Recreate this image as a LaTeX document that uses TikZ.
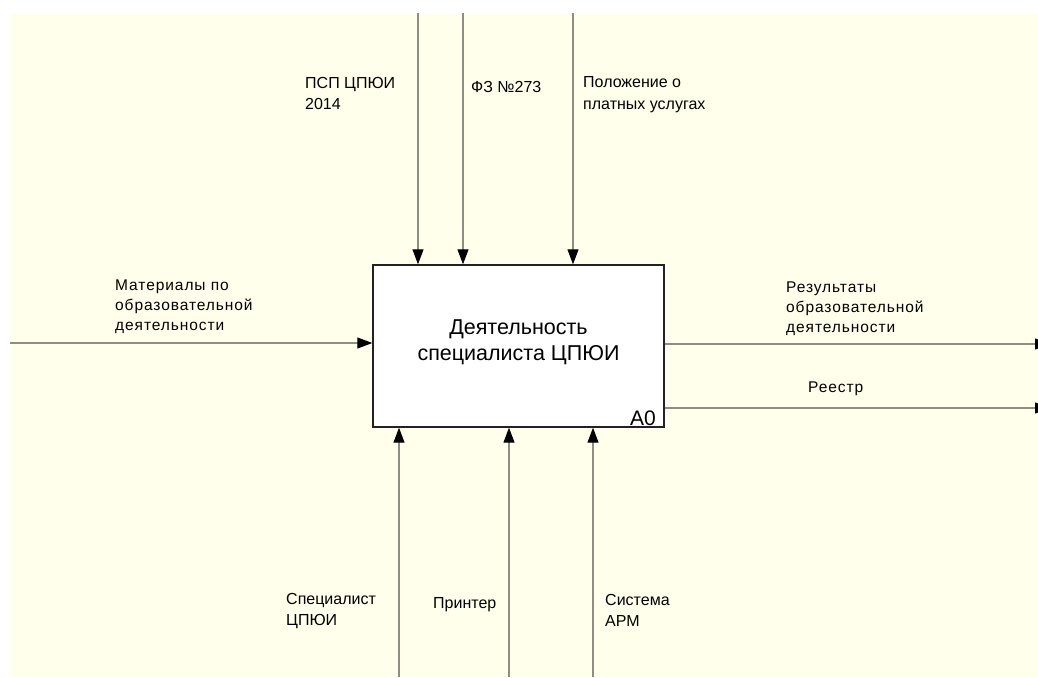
\documentclass[tikz,border=0pt]{standalone}
\usepackage{fontspec}
\setmainfont{Liberation Sans}
\usetikzlibrary{arrows.meta}
\definecolor{paper}{HTML}{FFFFEB}
\definecolor{wirecol}{HTML}{8E8E84}
\definecolor{framecol}{HTML}{222222}
\begin{document}
\begin{tikzpicture}[x=1pt,y=-1pt,
  wire/.style={draw=wirecol, line width=1.1pt,
    -{Triangle[length=15pt,width=11pt,fill=black,color=black]}},
  activity/.style={draw=framecol, fill=white, line width=1.4pt,
    minimum width=291pt, minimum height=162pt, inner sep=0pt},
  lbl/.style={anchor=north west, inner sep=0pt, align=left,
    font=\fontsize{16}{21.5}\selectfont},
  slbl/.style={anchor=north west, inner sep=0pt, align=left,
    font=\fontsize{15.5}{20}\selectfont\addfontfeatures{LetterSpace=6}},
]
% page and sheet
\fill[white] (0,0) rectangle (1038,677);
\fill[paper] (10,13) rectangle (1038,677);
\useasboundingbox (0,0) rectangle (1038,677);

% the activity box
\node[activity] (act) at (518.5,346) {};
\node[align=center, inner sep=0pt, font=\fontsize{21.5}{25.7}\selectfont]
  (title) at (518.5,342) {Деятельность\\специалиста ЦПЮИ};
\node[anchor=base east, inner sep=0pt, font=\fontsize{21}{24}\selectfont]
  (num) at (656,425.5) {A0};

% control arrows (top)
\coordinate (c1) at (418,13);
\coordinate (c2) at (463,13);
\coordinate (c3) at (573,13);
\draw[wire] (c1) -- (c1 |- act.north);
\draw[wire] (c2) -- (c2 |- act.north);
\draw[wire] (c3) -- (c3 |- act.north);

% input arrow (left)
\coordinate (i1) at (10,343);
\draw[wire] (i1) -- (i1 -| act.west);

% output arrows (right), tips run off the sheet
\coordinate (o1) at (1050,344);
\coordinate (o2) at (1050,408);
\draw[wire] (o1 -| act.east) -- (o1);
\draw[wire] (o2 -| act.east) -- (o2);

% mechanism arrows (bottom)
\coordinate (m1) at (399,677);
\coordinate (m2) at (509,677);
\coordinate (m3) at (593,677);
\draw[wire] (m1) -- (m1 |- act.south);
\draw[wire] (m2) -- (m2 |- act.south);
\draw[wire] (m3) -- (m3 |- act.south);

% labels
\node[lbl] (lc1) at (305,77) {ПСП ЦПЮИ\\2014};
\node[lbl] (lc2) at (471,81.5) {ФЗ №273};
\node[lbl] (lc3) at (583,76.5) {Положение о\\платных услугах};
\node[slbl] (li1) at (115,280) {Материалы по\\образовательной\\деятельности};
\node[slbl] (lo1) at (786,281.5) {Результаты\\образовательной\\деятельности};
\node[slbl] (lo2) at (808,381.5) {Реестр};
\node[lbl] (lm1) at (286,593) {Специалист\\ЦПЮИ};
\node[lbl] (lm2) at (433,597) {Принтер};
\node[lbl] (lm3) at (605,594) {Система\\АРМ};
\end{tikzpicture}
\end{document}
